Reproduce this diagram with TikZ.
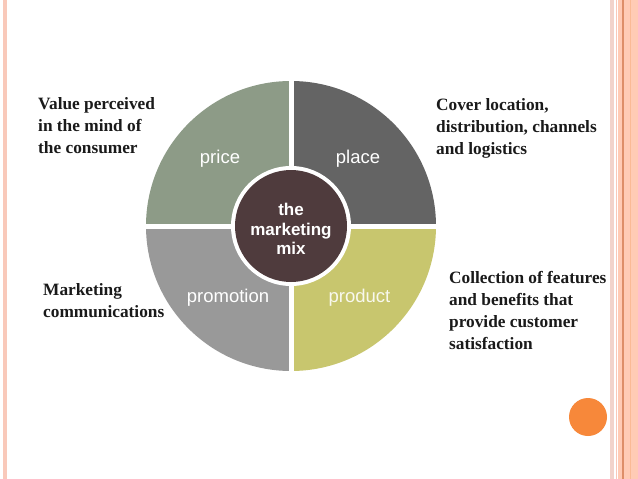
\documentclass[tikz,border=0pt]{standalone}
\usepackage{fontspec}
\setmainfont{Liberation Serif}
\setsansfont{Liberation Sans}
\definecolor{cprice}{HTML}{8D9B87}
\definecolor{cplace}{HTML}{646464}
\definecolor{cpromo}{HTML}{999999}
\definecolor{cprod}{HTML}{C8C66E}
\definecolor{ccenter}{HTML}{4F3B3D}
\definecolor{cpink}{HTML}{F9C9BA}
\definecolor{cpinklt}{HTML}{F2D3CB}
\definecolor{csalmon}{HTML}{FFCBB5}
\definecolor{cline}{HTML}{DE8E68}
\definecolor{corange}{HTML}{F7883A}
\definecolor{ctext}{HTML}{1A1A1A}
\begin{document}
\begin{tikzpicture}[x=1pt,y=-1pt,
  note/.style={anchor=north west,inner sep=0pt,align=left,text=ctext,
    font=\fontsize{17.3}{22}\selectfont\bfseries},
  seglabel/.style={text=white,inner sep=0pt,font=\sffamily\fontsize{18.5}{19.5}\selectfont,align=center}]
\useasboundingbox (0,0) rectangle (638,479);
\fill[white] (0,0) rectangle (638,479);
% borders
\fill[cpink] (3,0) rectangle (7,479);
\fill[cpinklt] (610,0) rectangle (614,479);
\fill[cpink] (616,0) rectangle (617,479);
\fill[csalmon] (617.5,0) rectangle (638,479);
\fill[cline] (622,0) rectangle (623.5,479);
\fill[cpink!80!orange] (630,0) rectangle (630.8,479);
% wheel
\coordinate (c) at (291,226);
\fill[cprice] (c) -- ++(-145,0) arc[start angle=180,end angle=270,radius=145] -- cycle;
\fill[cplace] (c) -- ++(0,-145) arc[start angle=270,end angle=360,radius=145] -- cycle;
\fill[cprod] (c) -- ++(145,0) arc[start angle=0,end angle=90,radius=145] -- cycle;
\fill[cpromo] (c) -- ++(0,145) arc[start angle=90,end angle=180,radius=145] -- cycle;
\draw[white,line width=5pt] ([yshift=-147pt]c) -- ([yshift=147pt]c);
\draw[white,line width=5pt] ([xshift=-147pt]c) -- ([xshift=147pt]c);
\node[circle,fill=white,minimum size=120pt,inner sep=0pt] (ring) at (c) {};
\node[circle,fill=ccenter,minimum size=112pt,inner sep=0pt] (hub) at (c) {};
\node[seglabel,font=\sffamily\bfseries\fontsize{17}{19.5}\selectfont] (mix) at (291,229) {the\\marketing\\mix};
\node[seglabel,anchor=base] (price) at (220,163) {price};
\node[seglabel,anchor=base] (place) at (358,163) {place};
\node[seglabel,anchor=base] (promo) at (228,302) {promotion};
\node[seglabel,anchor=base,text=white!88!cprod] (prod) at (359.5,302) {product};
% notes
\node[note] (n1) at (38,97.5) {Value perceived\\in the mind of\\the consumer};
\node[note] (n2) at (436,98.5) {Cover location,\\distribution, channels\\and logistics};
\node[note] (n3) at (449,271.5) {Collection of features\\and benefits that\\provide customer\\satisfaction};
\node[note] (n4) at (43,283.5) {Marketing\\communications};
% orange dot
\node[circle,fill=corange,minimum size=38pt,inner sep=0pt] (dot) at (588,417) {};
\end{tikzpicture}
\end{document}
